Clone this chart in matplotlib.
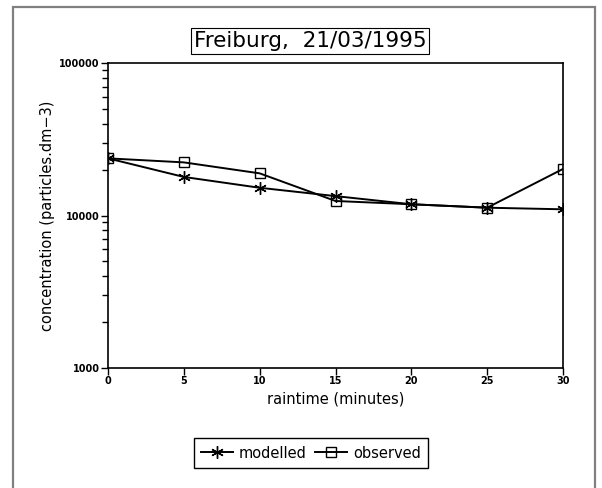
import numpy as np
import matplotlib.pyplot as plt
from matplotlib.patches import Rectangle
from matplotlib.ticker import LogLocator, NullFormatter, FixedLocator

# datos
raintime = [0, 5, 10, 15, 20, 25, 30]
modelled = [23700, 17900, 15200, 13400, 11850, 11250, 10980]
observed = [23700, 22300, 18900, 12450, 11850, 11250, 20200]
x_ticks = [0, 5, 10, 15, 20, 25, 30]
y_ticks = [1000, 10000, 100000]

fig = plt.figure(figsize=(6.02, 4.88), dpi=100)

# marco exterior gris
fig.patches.append(Rectangle((13 / 602, -0.01), 582 / 602, 1 - 7 / 488 + 0.01,
                             transform=fig.transFigure, fill=False,
                             edgecolor='#808080', linewidth=1.6))

ax = fig.add_axes([108 / 602, 1 - 368 / 488, 455 / 602, 305 / 488])
ax.plot(raintime, modelled, color='black', linewidth=1.4, marker=(6, 2, 0),
        markersize=9, markeredgewidth=1.0, label='modelled')
ax.plot(raintime, observed, color='black', linewidth=1.4, marker='s',
        markersize=7.5, fillstyle='none', markeredgewidth=1.0, label='observed')

ax.set_yscale('log')
ax.set_ylim(1000, 100000)
ax.set_xlim(0, 30)
ax.xaxis.set_major_locator(FixedLocator(x_ticks))
ax.yaxis.set_major_locator(FixedLocator(y_ticks))
ax.yaxis.set_minor_locator(LogLocator(base=10, subs=np.arange(2, 10)))
ax.yaxis.set_minor_formatter(NullFormatter())
ax.set_xticklabels([str(v) for v in x_ticks])
ax.set_yticklabels([str(v) for v in y_ticks])

for lab in ax.get_xticklabels() + ax.get_yticklabels():
    lab.set_fontweight('bold')
    lab.set_fontsize(7)
ax.tick_params(axis='both', which='major', direction='out', length=5,
               width=1.0, pad=1, colors='black')
ax.tick_params(axis='y', which='minor', direction='out', length=4, width=1.0)
for s in ax.spines.values():
    s.set_linewidth(1.2)

ax.set_xlabel('raintime (minutes)', fontsize=10.5, labelpad=4)
ax.set_ylabel('concentration (particles.dm\u22123)', fontsize=10.5, labelpad=3)

fig.text(310 / 602, 1 - 41 / 488, 'Freiburg,  21/03/1995', ha='center', va='center',
         fontsize=15.5, family='DejaVu Sans',
         bbox=dict(boxstyle='square,pad=0.12', facecolor='white',
                   edgecolor='black', linewidth=0.8))

fig.legend(loc='center', bbox_to_anchor=(311 / 602, 1 - 453 / 488), ncol=2,
           fontsize=10.5, frameon=True, fancybox=False, edgecolor='black',
           handlelength=2.2, handletextpad=0.4, columnspacing=0.6,
           borderpad=0.5, framealpha=1)

fig.savefig('out.png', dpi=100)
